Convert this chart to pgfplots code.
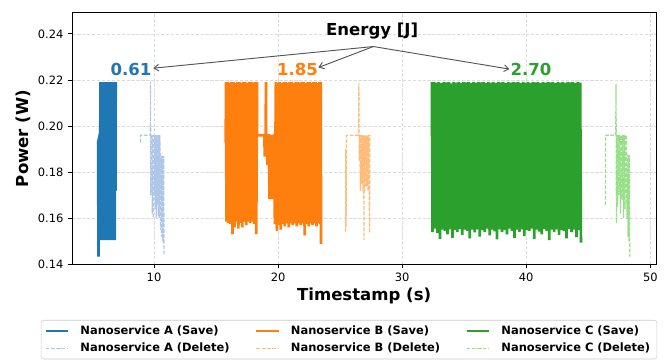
\documentclass[border=0pt]{standalone}
\usepackage{fontspec}
\setmainfont{DejaVu Sans}
\usepackage{pgfplots}
\pgfplotsset{compat=1.18}
\usetikzlibrary{arrows.meta}
\definecolor{cA}{HTML}{1F77B4}
\definecolor{cB}{HTML}{FF7F0E}
\definecolor{cC}{HTML}{2CA02C}
\definecolor{lA}{HTML}{AEC7E8}
\definecolor{lB}{HTML}{FFBB78}
\definecolor{lC}{HTML}{98DF8A}
\definecolor{gridc}{HTML}{DDDDDD}
\definecolor{arrc}{HTML}{555555}
\begin{document}
\begin{tikzpicture}
\begin{axis}[name=ax, scale only axis, width=437.8pt, height=188.7pt,
  xmin=3.41, xmax=50.46, ymin=0.14, ymax=0.2492, clip=false,
  xtick={10,20,30,40,50}, xticklabels={10,20,30,40,50},
  ytick={0.14,0.16,0.18,0.20,0.22,0.24}, yticklabels={0.14,0.16,0.18,0.20,0.22,0.24},
  tick align=outside, xtick pos=bottom, ytick pos=left, major tick length=3.1pt,
  tick style={black, line width=0.6pt}, axis line style={line width=0.7pt},
  grid=major, major grid style={gridc, line width=0.5pt, dash pattern=on 2.5pt off 1.2pt},
  ticklabel style={font=\fontsize{8.6}{10}\selectfont},
  xlabel={Timestamp (s)}, ylabel={Power (W)},
  every axis x label/.style={at={(axis description cs:0.5,-0.1423)}, anchor=base, font=\fontsize{12.4}{14}\selectfont\bfseries},
  every axis y label/.style={at={(axis description cs:-0.0845,0.5)}, rotate=90, anchor=center, font=\fontsize{12.4}{14}\selectfont\bfseries},
  legend columns=3, legend cell align=left,
  legend image code/.code={\draw[mark repeat=2,mark phase=2,#1,line width=0.9pt] plot coordinates {(0cm,0cm) (0.3cm,0cm) (0.6cm,0cm)}; \path (0.6cm+6pt,0cm);},
  legend style={at={(0.474,-0.2214)}, anchor=north, draw=black!20, rounded corners=2pt,
    font=\fontsize{8.6}{10}\selectfont\bfseries, row sep=1pt,
    /tikz/every even column/.append style={column sep=17.5pt}},
]
% Nanoservice A (Save)
\addplot[cA, line width=2pt] coordinates {
(5.48,0.1925)(5.50,0.1930)(5.52,0.1433)(5.55,0.1935)(5.58,0.1545)(5.62,0.1950)(5.65,0.1545)
(5.68,0.2190)(5.73,0.1505)(5.78,0.2190)(5.83,0.1505)(5.88,0.2190)(5.93,0.1505)(5.98,0.2190)(6.03,0.1505)
(6.08,0.2190)(6.13,0.1505)(6.18,0.2190)(6.23,0.1505)(6.28,0.2190)(6.33,0.1505)(6.38,0.2190)(6.43,0.1505)
(6.48,0.2190)(6.53,0.1505)(6.58,0.2190)(6.63,0.1505)(6.68,0.2190)(6.73,0.1505)(6.78,0.2190)(6.83,0.1505)
(6.88,0.2190)(6.90,0.1720)(6.91,0.2190)
};
\addlegendentry{Nanoservice A (Save)}
% Nanoservice B (Save)
\addplot[cB, line width=2pt] coordinates {
(15.77,0.1955)(15.78,0.1930)(15.80,0.2190)
(15.84,0.1585)(15.92,0.2190)(16.00,0.1580)(16.08,0.2188)(16.16,0.1575)(16.24,0.2190)(16.32,0.1531)(16.40,0.2190)
(16.48,0.1560)(16.56,0.2186)(16.64,0.1585)(16.72,0.2190)(16.80,0.1555)(16.88,0.2190)(16.96,0.1580)(17.04,0.2188)
(17.12,0.1560)(17.20,0.2190)(17.28,0.1585)(17.36,0.2190)(17.44,0.1570)(17.52,0.2186)(17.60,0.1585)(17.68,0.2190)
(17.76,0.1580)(17.84,0.2190)(17.92,0.1585)(18.00,0.2188)(18.08,0.1575)(18.16,0.2190)(18.24,0.1531)(18.30,0.2190)
(18.31,0.1960)(18.90,0.1960)(18.92,0.1867)(18.94,0.1960)(19.00,0.1960)(19.02,0.2190)(19.04,0.1870)(19.06,0.1960)
(19.12,0.1960)(19.14,0.1830)(19.16,0.1960)(19.27,0.1960)(19.30,0.1683)(19.34,0.1960)(19.38,0.1683)(19.42,0.1960)
(19.46,0.1690)(19.50,0.1960)(19.54,0.1683)(19.58,0.1960)(19.62,0.1683)(19.66,0.1960)(19.70,0.1960)
(19.74,0.1575)(19.82,0.2190)(19.90,0.1545)(19.98,0.2188)(20.06,0.1570)(20.14,0.2190)(20.22,0.1550)(20.30,0.2186)
(20.38,0.1575)(20.46,0.2190)(20.54,0.1565)(20.62,0.2190)(20.70,0.1578)(20.78,0.2188)(20.86,0.1560)(20.94,0.2190)
(21.02,0.1578)(21.10,0.2190)(21.18,0.1570)(21.26,0.2186)(21.34,0.1578)(21.42,0.2190)(21.50,0.1565)(21.58,0.2190)
(21.66,0.1578)(21.74,0.2188)(21.82,0.1570)(21.90,0.2190)(21.98,0.1578)(22.06,0.2190)(22.14,0.1525)(22.22,0.2186)
(22.30,0.1575)(22.38,0.2190)(22.46,0.1565)(22.54,0.2190)(22.62,0.1578)(22.70,0.2188)(22.78,0.1570)(22.86,0.2190)
(22.94,0.1578)(23.02,0.2190)(23.10,0.1565)(23.18,0.2186)(23.26,0.1578)(23.34,0.2190)(23.42,0.1575)(23.44,0.2190)
(23.46,0.1488)
};
\addlegendentry{Nanoservice B (Save)}
% Nanoservice C (Save)
\addplot[cC, line width=2pt] coordinates {
(32.40,0.1955)(32.41,0.2190)
(32.45,0.1540)(32.55,0.2190)(32.65,0.1555)(32.75,0.2188)(32.85,0.1535)(32.95,0.2190)(33.05,0.1510)(33.15,0.2186)
(33.25,0.1550)(33.35,0.2190)(33.45,0.1545)(33.55,0.2189)(33.65,0.1530)(33.75,0.2190)(33.85,0.1552)(33.95,0.2185)
(34.05,0.1515)(34.15,0.2190)(34.25,0.1548)(34.35,0.2188)(34.45,0.1540)(34.55,0.2190)(34.65,0.1553)(34.75,0.2187)
(34.85,0.1528)(34.95,0.2190)(35.05,0.1550)(35.15,0.2189)(35.25,0.1545)(35.35,0.2190)(35.45,0.1512)(35.55,0.2186)
(35.65,0.1550)(35.75,0.2190)(35.85,0.1538)(35.95,0.2188)(36.05,0.1552)(36.15,0.2190)(36.25,0.1520)(36.35,0.2189)
(36.45,0.1548)(36.55,0.2190)(36.65,0.1540)(36.75,0.2186)(36.85,0.1555)(36.95,0.2190)(37.05,0.1525)(37.15,0.2188)
(37.25,0.1550)(37.35,0.2190)(37.45,0.1543)(37.55,0.2187)(37.65,0.1508)(37.75,0.2190)(37.85,0.1552)(37.95,0.2189)
(38.05,0.1540)(38.15,0.2190)(38.25,0.1548)(38.35,0.2186)(38.45,0.1530)(38.55,0.2190)(38.65,0.1555)(38.75,0.2188)
(38.85,0.1545)(38.95,0.2190)(39.05,0.1515)(39.15,0.2189)(39.25,0.1550)(39.35,0.2190)(39.45,0.1540)(39.55,0.2186)
(39.65,0.1552)(39.75,0.2190)(39.85,0.1522)(39.95,0.2188)(40.05,0.1548)(40.15,0.2190)(40.25,0.1545)(40.35,0.2187)
(40.45,0.1555)(40.55,0.2190)(40.65,0.1510)(40.75,0.2189)(40.85,0.1550)(40.95,0.2190)(41.05,0.1542)(41.15,0.2186)
(41.25,0.1530)(41.35,0.2190)(41.45,0.1553)(41.55,0.2188)(41.65,0.1545)(41.75,0.2190)(41.85,0.1505)(41.95,0.2189)
(42.05,0.1550)(42.15,0.2190)(42.25,0.1540)(42.35,0.2186)(42.45,0.1552)(42.55,0.2190)(42.65,0.1528)(42.75,0.2188)
(42.85,0.1548)(42.95,0.2190)(43.05,0.1545)(43.15,0.2187)(43.25,0.1512)(43.35,0.2190)(43.45,0.1553)(43.55,0.2189)
(43.65,0.1540)(43.75,0.2190)(43.85,0.1550)(43.95,0.2186)(44.05,0.1518)(44.15,0.2190)(44.25,0.1548)(44.35,0.2188)
(44.41,0.1494)
};
\addlegendentry{Nanoservice C (Save)}
% Nanoservice A (Delete)
\addplot[lA, line width=0.9pt, dash pattern=on 2.8pt off 1.2pt] coordinates {
(8.90,0.1928)(8.92,0.1960)(9.70,0.1960)(9.72,0.2193)(9.74,0.1700)(9.76,0.1960)(9.84,0.1960)(9.86,0.1620)
(9.90,0.1960)(9.94,0.1601)(9.98,0.1960)(10.02,0.1700)(10.06,0.1960)(10.10,0.1640)(10.14,0.1960)(10.18,0.1601)
(10.22,0.1960)(10.26,0.1660)(10.30,0.1960)(10.34,0.1610)(10.38,0.1960)(10.42,0.1601)(10.46,0.1960)(10.50,0.1870)
(10.53,0.1550)(10.57,0.1870)(10.61,0.1520)(10.65,0.1870)(10.69,0.1500)(10.73,0.1870)(10.76,0.1490)(10.79,0.1870)
(10.80,0.1440)
};
\addlegendentry{Nanoservice A (Delete)}
% Nanoservice B (Delete)
\addplot[lB, line width=0.9pt, dash pattern=on 2.8pt off 1.2pt] coordinates {
(25.44,0.1542)(25.46,0.1900)(25.48,0.1560)(25.52,0.1960)(26.48,0.1960)(26.51,0.2186)(26.54,0.1850)(26.58,0.1960)
(26.63,0.1720)(26.68,0.1960)(26.73,0.1750)(26.78,0.1960)(26.84,0.1715)(26.90,0.1960)(26.92,0.1506)(26.95,0.1960)
(27.00,0.1720)(27.06,0.1960)(27.12,0.1740)(27.18,0.1960)(27.24,0.1720)(27.30,0.1960)(27.37,0.1536)(27.40,0.1960)
(27.44,0.1960)
};
\addlegendentry{Nanoservice B (Delete)}
% Nanoservice C (Delete)
\addplot[lC, line width=0.9pt, dash pattern=on 2.8pt off 1.2pt] coordinates {
(46.38,0.1657)(46.40,0.1960)(47.21,0.1960)(47.24,0.2183)(47.27,0.1578)(47.30,0.1960)(47.36,0.1650)(47.42,0.1960)
(47.48,0.1700)(47.54,0.1960)(47.60,0.1620)(47.66,0.1960)(47.72,0.1680)(47.78,0.1960)(47.84,0.1600)(47.90,0.1960)
(47.96,0.1640)(48.02,0.1960)(48.06,0.1960)(48.08,0.1875)(48.12,0.1600)(48.16,0.1875)(48.20,0.1520)(48.24,0.1875)
(48.28,0.1500)(48.31,0.1875)(48.34,0.1433)
};
\addlegendentry{Nanoservice C (Delete)}
% annotations
\node[anchor=base, font=\fontsize{12.4}{14}\selectfont\bfseries] at (axis cs:27.58,0.2393) {Energy [J]};
\node[anchor=base, text=cA, font=\fontsize{12.4}{14}\selectfont\bfseries] at (axis cs:8.15,0.2219) {0.61};
\node[anchor=base, text=cB, font=\fontsize{12.4}{14}\selectfont\bfseries] at (axis cs:21.57,0.2219) {1.85};
\node[anchor=base, text=cC, font=\fontsize{12.4}{14}\selectfont\bfseries] at (axis cs:40.38,0.2219) {2.70};
\draw[arrc, line width=0.7pt, -{Straight Barb[length=3.5pt,width=5pt]}] (axis cs:27.68,0.2345) -- (axis cs:9.94,0.2251);
\draw[arrc, line width=0.7pt, -{Straight Barb[length=3.5pt,width=5pt]}] (axis cs:27.68,0.2345) -- (axis cs:23.25,0.2254);
\draw[arrc, line width=0.7pt, -{Straight Barb[length=3.5pt,width=5pt]}] (axis cs:27.68,0.2345) -- (axis cs:38.65,0.2247);
\end{axis}
\path ([shift={(-54.2pt,-68.8pt)}]ax.south west) rectangle ([shift={(8.25pt,9.5pt)}]ax.north east);
\end{tikzpicture}
\end{document}
